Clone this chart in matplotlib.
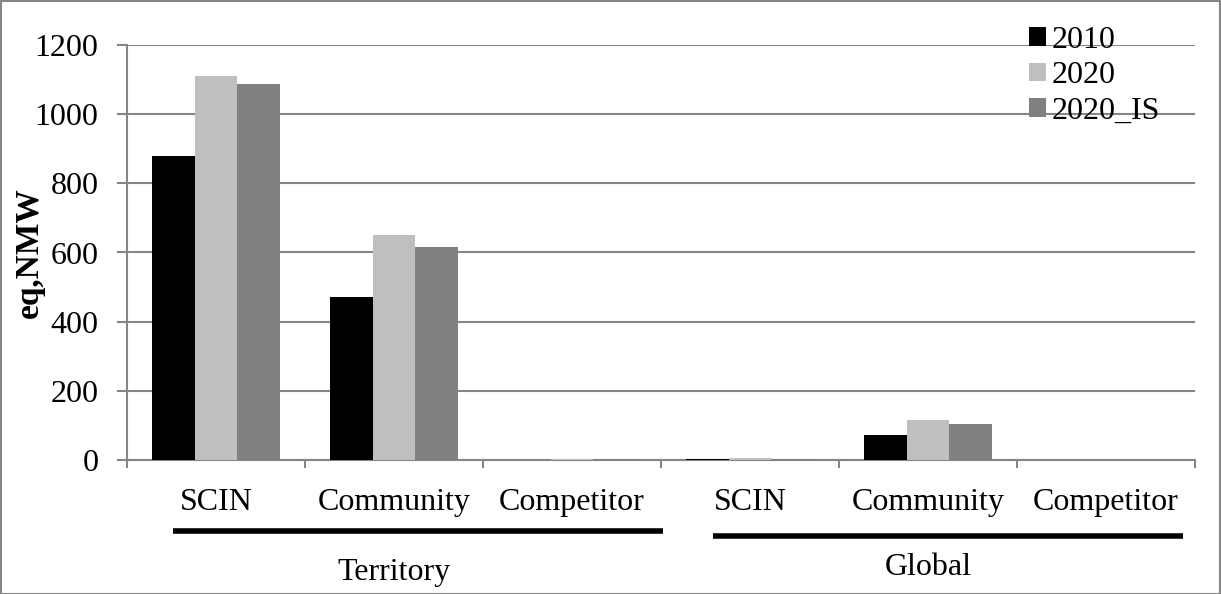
import matplotlib
matplotlib.use("Agg")
import matplotlib.pyplot as plt
import numpy as np
from matplotlib.patches import Rectangle
from matplotlib.lines import Line2D
import matplotlib.transforms as mtransforms

categories = ["SCIN", "Community", "Competitor", "SCIN", "Community", "Competitor"]
groups = ["Territory", "Global"]
series_names = ["2010", "2020", "2020_IS"]
v2010 = [880, 471, 0, 3, 72, 0]
v2020 = [1110, 651, 2, 5, 115, 0]
v2020_is = [1086, 617, 2, 3, 105, 0]
yticks = [0, 200, 400, 600, 800, 1000, 1200]
colors = ["#000000", "#BFBFBF", "#808080"]

plt.rcParams['font.family'] = ['Liberation Serif', 'DejaVu Serif']
fs = 23

fig = plt.figure(figsize=(12.21, 5.94), dpi=100)
ax = fig.add_axes([127/1221, 1-460/594, (1195-127)/1221, (460-45)/594])

x = np.arange(len(categories))
w = 0.238
for i, (vals, name, c) in enumerate(zip([v2010, v2020, v2020_is], series_names, colors)):
    ax.bar(x + (i - 1) * w, vals, width=w, color=c, label=name, zorder=3)

ax.set_xlim(-0.5, len(categories) - 0.5)
ax.set_ylim(0, 1200)
ax.set_yticks(yticks)
ax.set_yticklabels([str(t) for t in yticks], fontsize=fs)
ax.yaxis.grid(True, color="#868686", linewidth=1.5, zorder=0)
ax.set_axisbelow(True)
for s in ["top", "right"]:
    ax.spines[s].set_visible(False)
for s in ["left", "bottom"]:
    ax.spines[s].set_color("#868686")
    ax.spines[s].set_linewidth(1.5)
ax.tick_params(axis="y", length=7, width=1.5, color="#868686", pad=13.5)

ax.set_xticks(x)
ax.set_xticklabels(categories, fontsize=fs)
ax.set_xticks(np.arange(-0.5, len(categories)), minor=True)
ax.tick_params(axis="x", which="major", length=0, pad=20)
ax.tick_params(axis="x", which="minor", length=6, width=1.5, color="#868686")

ax.set_ylabel("eq,NMW", fontsize=24, fontweight="bold")
ax.yaxis.set_label_coords((45-127)/1068, 0.5)

trans = mtransforms.blended_transform_factory(ax.transData, ax.transAxes)
line_spec = [(-0.242, 2.511, -0.171), (2.79, 5.43, -0.183)]
label_pos = [(1.0, -0.27), (4.0, -0.258)]
for (x0, x1, yy), (lx, ly), g in zip(line_spec, label_pos, groups):
    ax.add_line(Line2D([x0, x1], [yy, yy], transform=trans, color="black",
                       linewidth=4.0, clip_on=False, solid_capstyle="butt"))
    ax.text(lx, ly, g, transform=trans, ha="center", va="center", fontsize=fs)

ax.legend(loc="upper left", bbox_to_anchor=(1029/1221, 1-26/594),
          bbox_transform=fig.transFigure, frameon=False, fontsize=fs,
          handlelength=0.53, handleheight=0.53, handletextpad=0.19,
          labelspacing=0.2, borderpad=0, borderaxespad=0)

fig.patches.append(Rectangle((0.5/1221, 0.5/594), 1-1.5/1221, 1-1.5/594,
                             transform=fig.transFigure, fill=False,
                             edgecolor="#868686", linewidth=1.5))

fig.savefig("out.png", dpi=100)
